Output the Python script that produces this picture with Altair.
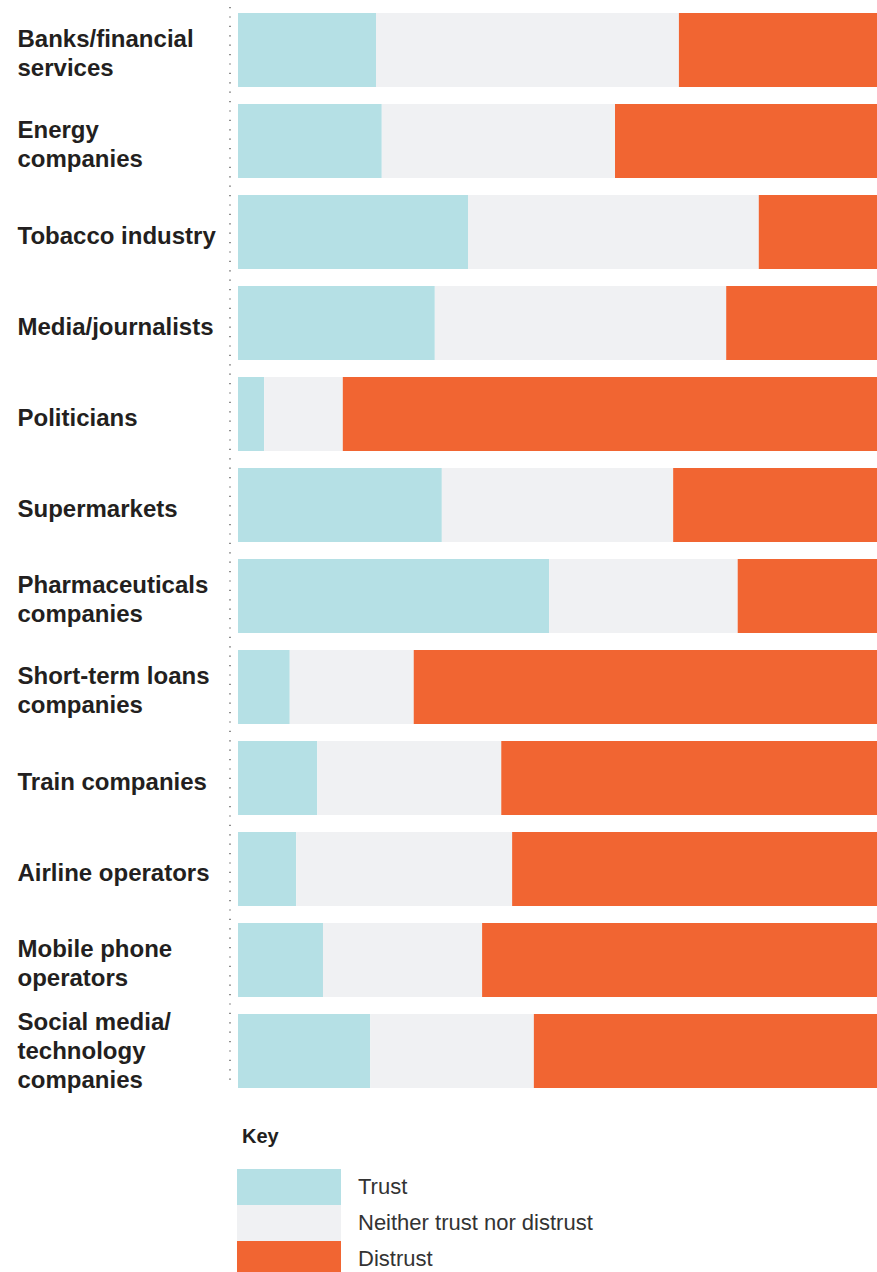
import altair as alt
import pandas as pd

categories = [
    "Banks/financial|services",
    "Energy|companies",
    "Tobacco industry",
    "Media/journalists",
    "Politicians",
    "Supermarkets",
    "Pharmaceuticals|companies",
    "Short-term loans|companies",
    "Train companies",
    "Airline operators",
    "Mobile phone|operators",
    "Social media/|technology|companies",
]
trust = [21.6, 22.5, 36.0, 30.8, 4.1, 31.9, 48.7, 8.1, 12.4, 9.1, 13.3, 20.7]
neither = [47.4, 36.5, 45.5, 45.6, 12.3, 36.2, 29.5, 19.4, 28.8, 33.8, 24.9, 25.6]
distrust = [31.0, 41.0, 18.5, 23.6, 83.6, 31.9, 21.8, 72.5, 58.8, 57.1, 61.8, 53.7]

responses = ["Trust", "Neither trust nor distrust", "Distrust"]
colors = ["#b5e0e5", "#f0f1f3", "#f16532"]

rows = []
for i, c in enumerate(categories):
    for k, (name, vals) in enumerate(zip(responses, [trust, neither, distrust])):
        rows.append({"category": c, "response": name, "value": vals[i], "order": k})
df = pd.DataFrame(rows)

label_offset = {
    "condition": [
        {"test": "length(split(datum.value, '|')) == 2", "value": -3},
        {"test": "length(split(datum.value, '|')) == 3", "value": -21},
    ],
    "value": 12,
}

bars = alt.Chart(df).mark_bar(strokeWidth=0).encode(
    y=alt.Y(
        "category:N",
        sort=categories,
        scale=alt.Scale(paddingInner=0.1868, paddingOuter=0),
        axis=alt.Axis(
            title=None,
            domain=False,
            ticks=False,
            labelAlign="left",
            labelBaseline="alphabetic",
            labelPadding=221,
            labelOffset=label_offset,
            labelFont="Liberation Sans",
            labelFontWeight="bold",
            labelFontSize=24,
            labelLineHeight=29,
            labelColor="#231f20",
            labelLimit=400,
            labelExpr="split(datum.label, '|')",
        ),
    ),
    x=alt.X(
        "value:Q",
        stack="normalize",
        scale=alt.Scale(domain=[0, 1], nice=False, zero=True),
        axis=None,
    ),
    color=alt.Color(
        "response:N",
        scale=alt.Scale(domain=responses, range=colors),
        legend=alt.Legend(
            title="Key",
            orient="none",
            legendX=4,
            legendY=1114,
            titleFont="Liberation Sans",
            titleFontSize=20,
            titleFontWeight="bold",
            titleColor="#231f20",
            titlePadding=22,
            symbolType="M-1.278,-1H4.5V1H-1.278Z",
            symbolSize=1296,
            symbolStrokeWidth=0,
            symbolOpacity=1,
            labelFont="Liberation Sans",
            labelFontSize=22,
            labelColor="#333333",
            labelOffset=80,
            labelLimit=500,
            rowPadding=0,
            direction="vertical",
        ),
    ),
    order=alt.Order("order:Q"),
)

rule = alt.Chart(pd.DataFrame({"a": [0]})).mark_rule(
    color="#444444", strokeWidth=1.2, strokeDash=[1.2, 8.2]
).encode(
    x=alt.value(-8),
    y=alt.value(-6),
    y2=alt.value(1075),
)

chart = (
    alt.layer(rule, bars)
    .properties(
        width=639,
        height=1075,
        autosize=alt.AutoSizeParams(type="none"),
        padding={"left": 238, "top": 13, "right": 0, "bottom": 184},
    )
    .configure_view(stroke=None)
)

chart.save("out.html", embed_options={"renderer": "svg", "actions": False})
